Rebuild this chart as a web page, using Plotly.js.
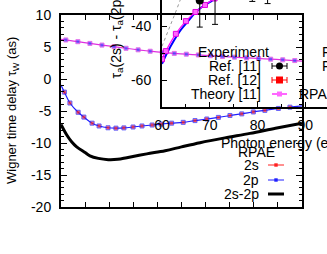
<!DOCTYPE html>
<html>
<head>
<meta charset="utf-8">
<script src="https://cdn.plot.ly/plotly-3.0.1.min.js"></script>
<style>html,body{margin:0;padding:0;background:#fff}#chart{width:327px;height:254px}</style>
</head>
<body>
<div id="chart"></div>
<script>
// ---------- main plot data (Wigner time delay, as) ----------
var topX  = [40, 42, 47, 52, 57, 62, 67, 72, 77, 82, 87, 92, 97, 102, 107, 112, 117, 122, 127, 132, 137, 140];
var topY  = [6.2, 6.1, 5.83, 5.56, 5.3, 5.05, 4.8, 4.56, 4.34, 4.15, 4.0, 3.88, 3.76, 3.64, 3.52, 3.41, 3.3, 3.2, 3.1, 3.0, 2.88, 2.8];

var midX  = [40, 41.4, 43.7, 47.1, 49.5, 52.9, 55.8, 59.5, 62.8, 66.1, 69.9, 73.6, 77.8, 81.5, 85.9, 90.7, 95.6, 100.5, 105.3, 110.1, 115, 119.8, 124.6, 130.2, 135, 140];
var midY  = [-0.94, -2.05, -3.75, -5.2, -5.95, -6.9, -7.34, -7.62, -7.68, -7.64, -7.5, -7.34, -7.19, -7.05, -6.9, -6.77, -6.5, -6.25, -6.0, -5.7, -5.45, -5.15, -4.9, -4.6, -4.4, -4.2];

var diffX = [40, 42.4, 44.4, 46.5, 50, 52, 55.5, 59.6, 63.5, 67.3, 75.6, 83.2, 90, 97.7, 108, 118.4, 129, 140];
var diffY = [-7.1, -8.75, -9.8, -10.6, -11.5, -12.0, -12.4, -12.6, -12.55, -12.3, -11.7, -11.2, -10.6, -9.95, -9.2, -8.5, -7.7, -6.9];

var mainYTickVals = [-20, -15, -10, -5, 0, 5, 10];
var mainYTickText = ['-20', '-15', '-10', '-5', '0', '5', '10'];

// ---------- inset data (tau_a(2s) - tau_a(2p)) ----------
var theoryX = [60, 60.8, 62.9, 65, 67, 69, 71, 73];
var theoryY = [-52.3, -49.3, -42.9, -38.2, -34.8, -32.2, -29.8, -27.7];

var rpaeX = [60, 61, 62.5, 64, 65.5, 67, 68.5, 70.5, 73];
var rpaeY = [-54, -50.2, -45.4, -41.3, -38.1, -35.0, -32.8, -30.6, -28.0];

var dotX = [60, 61, 62, 63, 64, 65];
var dotY = [-47.5, -43.2, -38.8, -34.2, -29.5, -24.8];

var expX   = [67.9, 71.1, 78.9, 82.1];
var expY   = [-30.6, -28.7, -20.9, -21.7];
var expErr = [9.8, 10.7, 10, 10];

var insetXTickVals = [60, 70, 80, 90];
var insetXTickText = ['60', '70', '80', '90'];
var insetYTickVals = [-60, -40];
var insetYTickText = ['-60', '-40'];

// ---------- helpers ----------
var W = 327, H = 254;
function px(x) { return x / W; }
function py(y) { return 1 - y / H; }
function innerSizes(n, s) { var a = []; for (var i = 0; i < n; i++) a.push((i === 0 || i === n - 1) ? 0 : s); return a; }

var FONT = {family: 'Liberation Sans, Arial, sans-serif', size: 14, color: '#000'};
var TFONT = {family: 'Liberation Sans, Arial, sans-serif', size: 13, color: '#000'};

var traces = [
  {x: topX, y: topY, mode: 'lines+markers', line: {color: '#e030e0', width: 1.2, shape: 'spline'},
   marker: {symbol: 'square', size: innerSizes(topX.length, 4), color: '#3a3aff'}, xaxis: 'x', yaxis: 'y'},
  {x: midX, y: midY, mode: 'lines+markers', line: {color: '#2020ff', width: 1.2, shape: 'spline'},
   marker: {symbol: 'square', size: innerSizes(midX.length, 4), color: '#ff1a1a'}, xaxis: 'x', yaxis: 'y'},
  {x: diffX, y: diffY, mode: 'lines', line: {color: '#000', width: 3, shape: 'spline'}, xaxis: 'x', yaxis: 'y'},

  {x: dotX, y: dotY, mode: 'lines', line: {color: '#999', width: 1, dash: 'dot'}, xaxis: 'x2', yaxis: 'y2'},
  {x: rpaeX, y: rpaeY, mode: 'lines', line: {color: '#0000ff', width: 2, shape: 'spline'}, xaxis: 'x2', yaxis: 'y2'},
  {x: theoryX, y: theoryY, mode: 'lines+markers', line: {color: '#ff00ff', width: 1.2, shape: 'spline'},
   marker: {symbol: 'square', size: 5, color: '#ff66ff', line: {color: '#e000e0', width: 1}}, xaxis: 'x2', yaxis: 'y2'},
  {x: expX, y: expY, mode: 'markers', marker: {symbol: 'circle', size: 8, color: '#000'},
   error_y: {type: 'data', array: expErr, color: '#000', thickness: 1, width: 3}, xaxis: 'x2', yaxis: 'y2'}
];

function ann(text, x, y, xa, extra) {
  var a = {text: text, x: px(x), y: py(y), xref: 'paper', yref: 'paper', xanchor: xa, yanchor: 'middle',
           showarrow: false, font: FONT, borderpad: 0};
  if (extra) for (var k in extra) a[k] = extra[k];
  return a;
}

var annotations = [
  ann('Wigner time delay τ<sub>W</sub> (as)', 12, 111, 'center', {textangle: -90, font: TFONT}),
  ann('τ<sub>a</sub>(2s) - τ<sub>a</sub>(2p) (as)', 116, 80, 'center', {textangle: -90, yanchor: 'bottom'}),
  ann('Photon energy (eV)', 220, 143, 'left'),
  ann('Experiment', 233, 52, 'center'),
  ann('Ref. [11]', 262, 66, 'right'),
  ann('Ref. [12]', 262, 80, 'right'),
  ann('Theory [11]', 262, 94, 'right'),
  ann('RPAE', 298, 94, 'left'),
  ann('F', 321, 52, 'left'),
  ann('F', 321, 66, 'left'),
  ann('RPAE', 256, 152, 'center'),
  ann('2s', 260, 165, 'right'),
  ann('2p', 260, 180, 'right'),
  ann('2s-2p', 260, 194, 'right')
];

function seg(x0, y0, x1, y1, color, w) {
  return {type: 'line', xref: 'paper', yref: 'paper', x0: px(x0), y0: py(y0), x1: px(x1), y1: py(y1),
          line: {color: color, width: w}};
}
function box(type, cx, cy, r, color) {
  return {type: type, xref: 'paper', yref: 'paper', x0: px(cx - r), x1: px(cx + r), y0: py(cy - r), y1: py(cy + r),
          fillcolor: color, line: {color: color, width: 0}};
}
var shapes = [
  seg(272, 66, 287, 66, '#000', 1), seg(272, 63, 272, 69, '#000', 1), seg(287, 63, 287, 69, '#000', 1), box('circle', 279.5, 66, 3.5, '#000'),
  seg(272, 80, 287, 80, '#ff0000', 1), seg(272, 77, 272, 83, '#ff0000', 1), seg(287, 77, 287, 83, '#ff0000', 1), box('rect', 279.5, 80, 3.5, '#ff0000'),
  seg(272, 94, 287, 94, '#ff00ff', 1.2), box('rect', 279.5, 94, 2.5, '#ff66ff'),
  seg(268, 165, 284, 165, '#ff2020', 1), box('rect', 276, 165, 1.7, '#ff2020'),
  seg(268, 180, 284, 180, '#2020ff', 1), box('rect', 276, 180, 1.7, '#2020ff'),
  seg(268, 194, 284, 194, '#000', 3)
];

var axisCommon = {showgrid: false, zeroline: false, showline: true, linecolor: '#000', linewidth: 2,
                  ticks: 'inside', tickcolor: '#000', tickwidth: 1, tickfont: FONT};

var layout = {
  width: W, height: H, margin: {l: 0, r: 0, t: 0, b: 0, pad: 0},
  paper_bgcolor: '#fff', plot_bgcolor: 'rgba(0,0,0,0)', showlegend: false, font: FONT,
  xaxis: Object.assign({}, axisCommon, {domain: [px(61), px(302)], range: [40, 140], tick0: 40, dtick: 10, ticklen: 5,
                       showticklabels: false, mirror: 'ticks', anchor: 'y'}),
  yaxis: Object.assign({}, axisCommon, {domain: [py(207), py(15)], range: [-20, 10], tickmode: 'array',
                       tickvals: mainYTickVals, ticktext: mainYTickText, ticklen: 6, mirror: 'ticks', anchor: 'x',
                       ticklabelstandoff: 5,
                       minor: {ticks: 'inside', tickmode: 'linear', tick0: 0, dtick: 1, ticklen: 3, tickcolor: '#000', showgrid: false}}),
  xaxis2: Object.assign({}, axisCommon, {domain: [px(162), 1], range: [60, 94.53], anchor: 'y2', tickmode: 'array',
                        tickvals: insetXTickVals, ticktext: insetXTickText, ticklen: 5, ticklabelstandoff: 4,
                        minor: {ticks: 'inside', tickmode: 'linear', tick0: 60, dtick: 5, ticklen: 3, tickcolor: '#000', showgrid: false}}),
  yaxis2: Object.assign({}, axisCommon, {domain: [py(107), 1], range: [-70, -30.37], anchor: 'x2', tickmode: 'array',
                        tickvals: insetYTickVals, ticktext: insetYTickText, ticklen: 5, ticklabelstandoff: 6,
                        minor: {ticks: 'inside', tickmode: 'linear', tick0: -70, dtick: 10, ticklen: 3, tickcolor: '#000', showgrid: false}}),
  annotations: annotations,
  shapes: shapes
};

Plotly.newPlot('chart', traces, layout, {displayModeBar: false, staticPlot: true});
</script>
</body>
</html>
